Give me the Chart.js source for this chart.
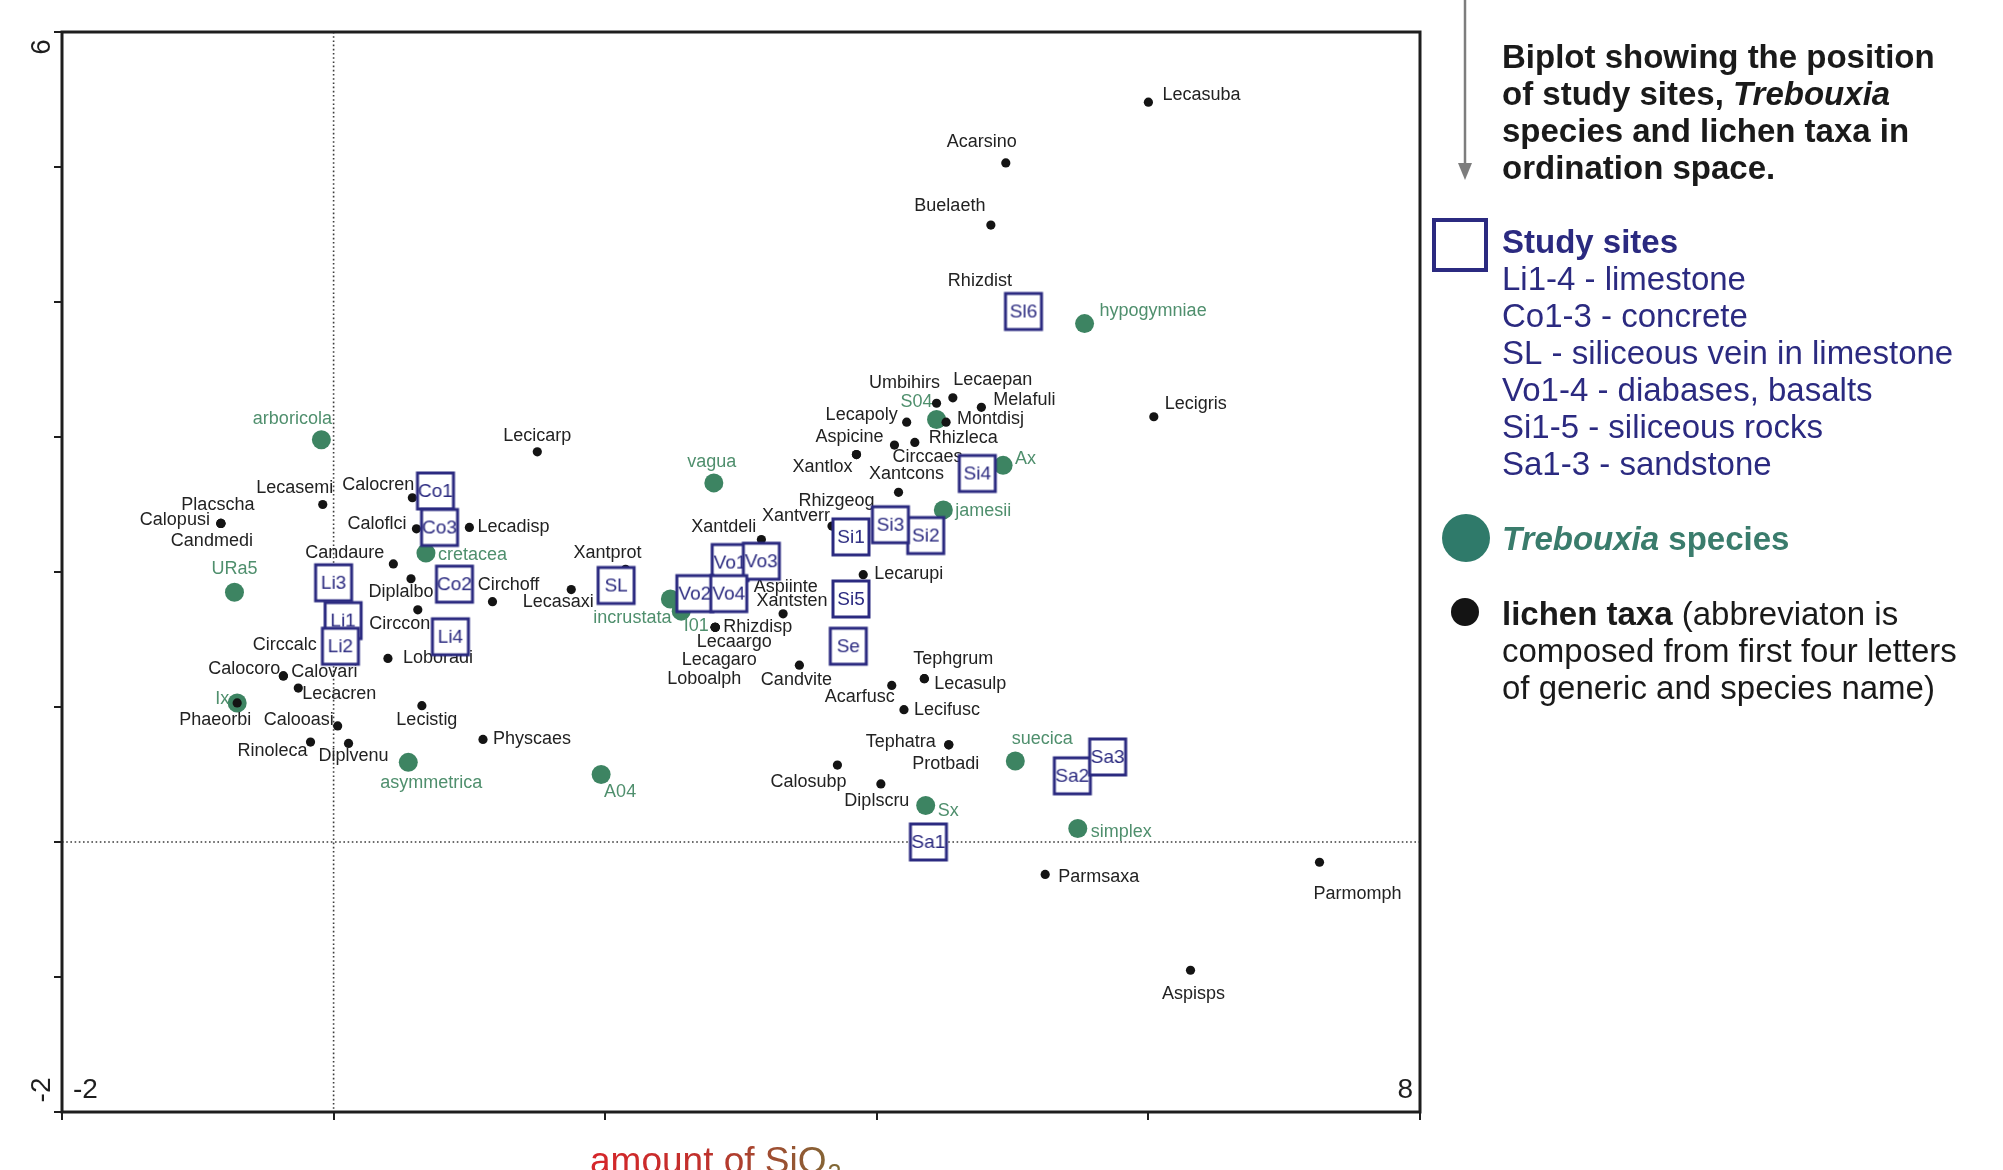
<!DOCTYPE html>
<html>
<head>
<meta charset="utf-8">
<title>Biplot: study sites, Trebouxia species and lichen taxa</title>
<script src="https://cdn.jsdelivr.net/npm/chart.js@4.4.1/dist/chart.umd.min.js"></script>
<style>
  html, body { margin: 0; padding: 0; background: #fff; overflow: hidden; }
  canvas { display: block; }
</style>
</head>
<body>
<canvas id="biplot" width="2003" height="1170"></canvas>
<script>
// ---------------- axis ranges and edge tick labels ----------------
const xRange = [-2, 8];
const yRange = [-2, 6];
const xTickStep = 2;
const yTickStep = 1;
const xEdgeLabels = ['-2', '8'];
const yEdgeLabels = ['-2', '6'];

// ---------------- lichen taxa (ordination scores) ----------------
const lichenNames = [
  'Lecasuba', 'Acarsino', 'Buelaeth', 'Rhizdist', 'Lecigris', 'Umbihirs', 'Lecaepan', 'Melafuli',
  'Lecapoly', 'Montdisj', 'Aspicine', 'Xantlox', 'Circcaes', 'Rhizleca', 'Xantcons', 'Rhizgeog',
  'Xantverr', 'Xantdeli', 'Lecarupi', 'Aspiinte', 'Xantsten', 'Rhizdisp', 'Lecaargo', 'Lecagaro',
  'Loboalph', 'Candvite', 'Acarfusc', 'Lecifusc', 'Lecasulp', 'Tephgrum', 'Tephatra', 'Protbadi',
  'Calosubp', 'Diplscru', 'Parmsaxa', 'Parmomph', 'Aspisps', 'Lecicarp', 'Calocren', 'Caloflci',
  'Lecadisp', 'Candaure', 'Diplalbo', 'Circhoff', 'Circcon', 'Loboradi', 'Xantprot', 'Lecasaxi',
  'Lecasemi', 'Calopusi', 'Placscha', 'Candmedi', 'Circcalc', 'Calocoro', 'Calovari', 'Lecacren',
  'Phaeorbi', 'Calooasi', 'Rinoleca', 'Diplvenu', 'Lecistig', 'Physcaes'
];
const lichenX = [
  6.00, 4.95, 4.84, 4.98, 6.04, 4.44, 4.56, 4.77,
  4.22, 4.51, 3.85, 3.85, 4.13, 4.28, 4.16, 4.02,
  3.67, 3.15, 3.90, 3.02, 3.31, 2.81, 2.81, 2.81,
  2.81, 3.43, 4.11, 4.20, 4.35, 4.35, 4.53, 4.53,
  3.71, 4.03, 5.24, 7.26, 6.31, 1.50, 0.58, 0.61,
  1.00, 0.44, 0.57, 1.17, 0.62, 0.40, 2.15, 1.75,
  -0.08, -0.83, -0.83, -0.83, -0.05, -0.37, -0.37, -0.26,
  -0.71, 0.03, -0.17, 0.11, 0.65, 1.10
];
const lichenY = [
  5.48, 5.03, 4.57, 4.01, 3.15, 3.25, 3.29, 3.22,
  3.11, 3.11, 2.87, 2.87, 2.94, 2.96, 2.59, 2.44,
  2.34, 2.24, 1.98, 1.95, 1.69, 1.59, 1.59, 1.59,
  1.59, 1.31, 1.16, 0.98, 1.21, 1.21, 0.72, 0.72,
  0.57, 0.43, -0.24, -0.15, -0.95, 2.89, 2.55, 2.32,
  2.33, 2.06, 1.95, 1.78, 1.72, 1.36, 2.02, 1.87,
  2.50, 2.36, 2.36, 2.36, 1.47, 1.23, 1.23, 1.14,
  1.03, 0.86, 0.74, 0.73, 1.01, 0.76
];

// ---------------- Trebouxia species ----------------
const trebouxiaNames = [
  'arboricola', 'URa5', 'Ix', 'cretacea', 'asymmetrica', 'A04', 'vagua', 'incrustata',
  'I01', 'S04', 'Ax', 'jamesii', 'hypogymniae', 'suecica', 'Sx', 'simplex'
];
const trebouxiaX = [-0.09, -0.73, -0.71, 0.68, 0.55, 1.97, 2.80, 2.48, 2.56, 4.44, 4.93, 4.49, 5.53, 5.02, 4.36, 5.48];
const trebouxiaY = [2.98, 1.85, 1.03, 2.14, 0.59, 0.50, 2.66, 1.80, 1.71, 3.13, 2.79, 2.46, 3.84, 0.60, 0.27, 0.10];

// ---------------- study sites ----------------
const siteNames = [
  'Li3', 'Li1', 'Li2', 'Li4', 'Co1', 'Co3', 'Co2', 'SL', 'Vo1', 'Vo3', 'Vo2', 'Vo4',
  'Si1', 'Si2', 'Si3', 'Si4', 'Si5', 'Se', 'Sl6', 'Sa1', 'Sa2', 'Sa3'
];
const siteX = [0.00, 0.07, 0.05, 0.86, 0.75, 0.78, 0.89, 2.08, 2.92, 3.15, 2.66, 2.91, 3.81, 4.36, 4.10, 4.74, 3.81, 3.79, 5.08, 4.38, 5.44, 5.70];
const siteY = [1.92, 1.64, 1.45, 1.52, 2.60, 2.33, 1.91, 1.90, 2.07, 2.08, 1.84, 1.84, 2.26, 2.27, 2.35, 2.73, 1.80, 1.45, 3.93, 0.00, 0.49, 0.63];

// ---------------- legend text ----------------
const titleLines = ['Biplot showing the position', 'of study sites, |Trebouxia', 'species and lichen taxa in', 'ordination space.'];
const siteLegendHead = 'Study sites';
const siteLegendLines = [
  'Li1-4 - limestone', 'Co1-3 - concrete', 'SL - siliceous vein in limestone',
  'Vo1-4 - diabases, basalts', 'Si1-5 - siliceous rocks', 'Sa1-3 - sandstone'
];
const trebouxiaLegend = ['Trebouxia', ' species'];
const lichenLegendLines = ['lichen taxa', ' (abbreviaton is', 'composed from first four letters', 'of generic and species name)'];
const axisTitle = ['amount of SiO', '2'];

// ---------------- label placement (align, dx, dy in px from the point) ----------------
const lichenLabelAt = {
  Lecasuba: ['l', 14, -7], Acarsino: ['c', -24, -21], Buelaeth: ['c', -41, -19], Rhizdist: ['c', -30, -20],
  Lecigris: ['l', 11, -13], Umbihirs: ['c', -32, -20], Lecaepan: ['c', 40, -18], Melafuli: ['l', 12, -7],
  Lecapoly: ['r', -9, -7], Montdisj: ['l', 11, -3], Aspicine: ['c', -7, -18], Xantlox: ['r', -4, 12],
  Circcaes: ['l', -2, 12], Rhizleca: ['l', 14, -4], Xantcons: ['c', 8, -18], Rhizgeog: ['c', -43, -12],
  Xantverr: ['r', -2, -10], Xantdeli: ['r', -5, -13], Lecarupi: ['l', 11, -1], Aspiinte: ['l', 10, 8],
  Xantsten: ['c', 9, -13], Rhizdisp: ['l', 8, 0], Lecaargo: ['c', 19, 15], Lecagaro: ['c', 4, 33],
  Loboalph: ['c', -11, 52], Candvite: ['c', -3, 15], Acarfusc: ['c', -32, 12], Lecifusc: ['l', 10, 0],
  Lecasulp: ['l', 10, 5], Tephgrum: ['c', 29, -20], Tephatra: ['r', -13, -3], Protbadi: ['c', -3, 19],
  Calosubp: ['c', -29, 17], Diplscru: ['c', -4, 17], Parmsaxa: ['l', 13, 3], Parmomph: ['c', 38, 32],
  Aspisps: ['c', 3, 24], Lecicarp: ['c', 0, -16], Calocren: ['r', 2, -13], Caloflci: ['r', -10, -5],
  Lecadisp: ['l', 8, 0], Candaure: ['r', -9, -11], Diplalbo: ['c', -10, 13], Circhoff: ['c', 16, -17],
  Circcon: ['c', -18, 14], Loboradi: ['l', 15, 0], Xantprot: ['c', -18, -16], Lecasaxi: ['c', -13, 12],
  Lecasemi: ['c', -28, -16], Calopusi: ['r', -11, -3], Placscha: ['c', -3, -18], Candmedi: ['c', -9, 18],
  Circcalc: ['r', -10, 1], Calocoro: ['r', -3, -7], Calovari: ['l', 8, -4], Lecacren: ['l', 4, 6],
  Phaeorbi: ['c', -22, 17], Calooasi: ['r', -4, -6], Rinoleca: ['r', -3, 9], Diplvenu: ['c', 5, 13],
  Lecistig: ['c', 5, 14], Physcaes: ['l', 10, 0]
};
const trebouxiaLabelAt = {
  arboricola: ['c', -29, -21], URa5: ['c', 0, -23], Ix: ['r', -8, -4], cretacea: ['l', 12, 2],
  asymmetrica: ['c', 23, 21], A04: ['c', 19, 18], vagua: ['c', -2, -21], incrustata: ['c', -38, 19],
  I01: ['c', 15, 15], S04: ['r', -4, -17], Ax: ['l', 12, -6], jamesii: ['l', 12, 1],
  hypogymniae: ['l', 15, -13], suecica: ['c', 27, -22], Sx: ['l', 12, 5], simplex: ['l', 13, 4]
};

// ---------------- styles ----------------
const SANS = "'Liberation Sans', Arial, Helvetica, sans-serif";
const INK = '#1e1e1e';
const NAVY = '#2b2a80';
const GREEN_DOT = '#3d8462';
const GREEN_TEXT = '#4f8f6d';
const TEAL = '#3a7c6c';

// square marker with the site code, drawn by the library as an image point style
function siteMark(code) {
  const size = 44;
  const c = document.createElement('canvas');
  c.width = size; c.height = size;
  const g = c.getContext('2d');
  const s = 36;
  const o = (size - s) / 2;
  g.fillStyle = '#ffffff';
  g.fillRect(o, o, s, s);
  g.strokeStyle = NAVY;
  g.lineWidth = 3;
  g.strokeRect(o, o, s, s);
  g.fillStyle = NAVY;
  g.font = '19px ' + SANS;
  g.textAlign = 'center';
  g.textBaseline = 'middle';
  g.fillText(code, size / 2, size / 2 + 1);
  return c;
}
const siteMarks = siteNames.map(siteMark);

const toPoints = (xs, ys) => xs.map((x, i) => ({ x, y: ys[i] }));

function drawLabel(ctx, text, el, place) {
  const [a, dx, dy] = place || ['l', 8, 0];
  ctx.textAlign = a === 'l' ? 'left' : a === 'r' ? 'right' : 'center';
  ctx.fillText(text, el.x + dx, el.y + dy);
}

function drawRich(ctx, parts, x, y) {
  let cx = x;
  for (const [text, font, color] of parts) {
    ctx.font = font;
    ctx.fillStyle = color;
    ctx.fillText(text, cx, y);
    cx += ctx.measureText(text).width;
  }
  return cx;
}

const biplotDecor = {
  id: 'biplotDecor',
  beforeDatasetsDraw(chart) {
    const { ctx, chartArea: a, scales: { x, y } } = chart;
    ctx.save();
    ctx.strokeStyle = '#3c3c3c';
    ctx.lineWidth = 1.6;
    ctx.setLineDash([1.6, 2.6]);
    const x0 = x.getPixelForValue(0);
    const y0 = y.getPixelForValue(0);
    ctx.beginPath();
    ctx.moveTo(x0, a.top); ctx.lineTo(x0, a.bottom);
    ctx.moveTo(a.left, y0); ctx.lineTo(a.right, y0);
    ctx.stroke();
    ctx.restore();
  },
  beforeDatasetDraw(chart, args) {
    // point names go under the site squares
    if (args.index !== 0) return;
    const ctx = chart.ctx;
    ctx.save();
    ctx.textBaseline = 'middle';
    ctx.font = '18px ' + SANS;
    ctx.fillStyle = GREEN_TEXT;
    const tMeta = chart.getDatasetMeta(2);
    trebouxiaNames.forEach((n, i) => drawLabel(ctx, n, tMeta.data[i], trebouxiaLabelAt[n]));
    ctx.fillStyle = '#222222';
    const lMeta = chart.getDatasetMeta(1);
    lichenNames.forEach((n, i) => drawLabel(ctx, n, lMeta.data[i], lichenLabelAt[n]));
    ctx.restore();
  },
  afterDatasetsDraw(chart) {
    const { ctx, chartArea: a } = chart;
    ctx.save();
    ctx.strokeStyle = INK;
    ctx.lineWidth = 3;
    ctx.strokeRect(a.left, a.top, a.right - a.left, a.bottom - a.top);
    ctx.restore();
  },
  afterDraw(chart) {
    const { ctx, scales: { x, y } } = chart;
    ctx.save();

    // edge tick labels
    ctx.fillStyle = INK;
    ctx.font = '28px ' + SANS;
    ctx.textBaseline = 'middle';
    const yb = y.getPixelForValue(yRange[0]);
    ctx.textAlign = 'left';
    ctx.fillText(xEdgeLabels[0], x.getPixelForValue(xRange[0]) + 11, yb - 22);
    ctx.textAlign = 'right';
    ctx.fillText(xEdgeLabels[1], x.getPixelForValue(xRange[1]) - 7, yb - 22);
    const yLabelX = x.getPixelForValue(xRange[0]) - 20;
    [[yEdgeLabels[0], y.getPixelForValue(yRange[0]) - 22], [yEdgeLabels[1], y.getPixelForValue(yRange[1]) + 15]].forEach(([t, py]) => {
      ctx.save();
      ctx.translate(yLabelX, py);
      ctx.rotate(-Math.PI / 2);
      ctx.textAlign = 'center';
      ctx.fillText(t, 0, 0);
      ctx.restore();
    });

    // axis title
    const tx = 590, ty = 1173;
    ctx.font = '37px ' + SANS;
    const mainW = ctx.measureText(axisTitle[0]).width;
    const grad = ctx.createLinearGradient(tx, 0, tx + mainW + 14, 0);
    grad.addColorStop(0, '#d6262a');
    grad.addColorStop(0.45, '#c0302c');
    grad.addColorStop(1, '#7e6a36');
    ctx.fillStyle = grad;
    ctx.textAlign = 'left';
    ctx.textBaseline = 'alphabetic';
    ctx.fillText(axisTitle[0], tx, ty);
    ctx.font = '25px ' + SANS;
    ctx.fillText(axisTitle[1], tx + mainW + 1, ty + 9);

    // pointer arrow
    const ax = 1465;
    ctx.strokeStyle = '#7d7d7d';
    ctx.fillStyle = '#7d7d7d';
    ctx.lineWidth = 2.5;
    ctx.beginPath(); ctx.moveTo(ax, 0); ctx.lineTo(ax, 166); ctx.stroke();
    ctx.beginPath(); ctx.moveTo(ax - 7, 163); ctx.lineTo(ax + 7, 163); ctx.lineTo(ax, 180); ctx.closePath(); ctx.fill();

    // legend
    const lx = 1502;
    const dy = 2.5;
    const B = 'bold 33px ' + SANS, BI = 'italic bold 33px ' + SANS, R = '33px ' + SANS;
    ctx.textAlign = 'left';
    ctx.textBaseline = 'middle';
    const titleY = [56, 93, 130, 167];
    titleLines.forEach((line, i) => {
      const [plain, ital] = line.split('|');
      const parts = [[plain, B, '#1a1a1a']];
      if (ital) parts.push([ital, BI, '#1a1a1a']);
      drawRich(ctx, parts, lx, titleY[i] + dy);
    });

    ctx.strokeStyle = NAVY;
    ctx.lineWidth = 4;
    ctx.strokeRect(1434, 220, 52, 50);
    drawRich(ctx, [[siteLegendHead, B, NAVY]], lx, 241 + dy);
    siteLegendLines.forEach((line, i) => drawRich(ctx, [[line, R, NAVY]], lx, 278 + i * 37.1 + dy));

    ctx.fillStyle = '#2f7a6a';
    ctx.beginPath(); ctx.arc(1466, 538, 24, 0, Math.PI * 2); ctx.fill();
    drawRich(ctx, [[trebouxiaLegend[0], BI, TEAL], [trebouxiaLegend[1], B, TEAL]], lx, 538 + dy);

    ctx.fillStyle = '#141414';
    ctx.beginPath(); ctx.arc(1465, 612, 14, 0, Math.PI * 2); ctx.fill();
    drawRich(ctx, [[lichenLegendLines[0], B, '#1a1a1a'], [lichenLegendLines[1], R, '#1a1a1a']], lx, 613 + dy);
    drawRich(ctx, [[lichenLegendLines[2], R, '#1a1a1a']], lx, 650 + dy);
    drawRich(ctx, [[lichenLegendLines[3], R, '#1a1a1a']], lx, 687 + dy);

    ctx.restore();
  }
};

new Chart(document.getElementById('biplot').getContext('2d'), {
  type: 'scatter',
  data: {
    datasets: [
      {
        label: 'Study sites',
        data: toPoints(siteX, siteY),
        pointStyle: ctx => siteMarks[ctx.dataIndex],
        pointRadius: 20
      },
      {
        label: 'lichen taxa',
        data: toPoints(lichenX, lichenY),
        pointStyle: 'circle',
        pointRadius: 4.6,
        backgroundColor: '#141414',
        borderWidth: 0
      },
      {
        label: 'Trebouxia species',
        data: toPoints(trebouxiaX, trebouxiaY),
        pointStyle: 'circle',
        pointRadius: 9.5,
        backgroundColor: GREEN_DOT,
        borderWidth: 0
      }
    ]
  },
  options: {
    responsive: false,
    animation: false,
    devicePixelRatio: 1,
    events: [],
    layout: { padding: { left: 62, right: 583, top: 32, bottom: 58 } },
    plugins: { legend: { display: false }, tooltip: { enabled: false }, title: { display: false } },
    scales: {
      x: {
        type: 'linear', position: 'bottom', min: xRange[0], max: xRange[1],
        ticks: { stepSize: xTickStep, display: false },
        grid: { drawOnChartArea: false, drawTicks: true, tickLength: 8, color: INK, lineWidth: 2 },
        border: { display: false },
        afterFit: s => { s.height = 0; }
      },
      y: {
        type: 'linear', position: 'left', min: yRange[0], max: yRange[1],
        ticks: { stepSize: yTickStep, display: false },
        grid: { drawOnChartArea: false, drawTicks: true, tickLength: 8, color: INK, lineWidth: 2 },
        border: { display: false },
        afterFit: s => { s.width = 0; }
      }
    }
  },
  plugins: [biplotDecor]
});
</script>
</body>
</html>
